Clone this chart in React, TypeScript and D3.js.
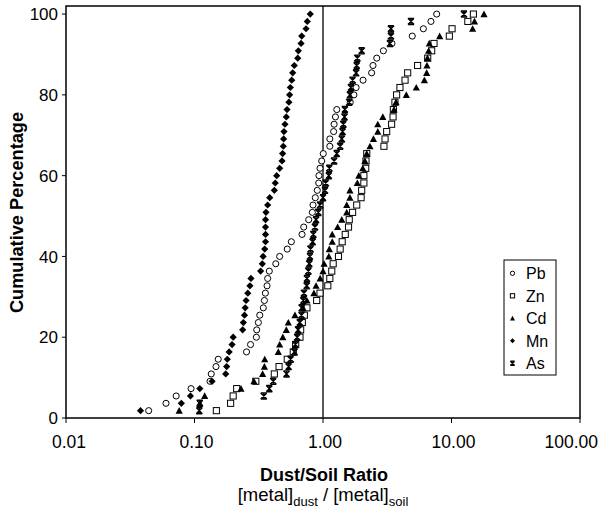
import React from "react";
import * as d3 from "d3";

// dust/soil ratios, sorted ascending (one value per sample)
const pb = [
  0.044, 0.06, 0.072, 0.094, 0.132, 0.135, 0.147, 0.153, 0.254, 0.273, 0.303, 0.305, 0.314, 0.322,
  0.343, 0.35, 0.356, 0.367, 0.371, 0.382, 0.429, 0.46, 0.527, 0.567, 0.687, 0.708, 0.774, 0.826,
  0.836, 0.871, 0.903, 0.926, 0.93, 0.948, 0.977, 1.005, 1.13, 1.13, 1.21, 1.22, 1.25, 1.28, 1.63,
  1.74, 1.81, 2.05, 2.39, 2.45, 2.62, 2.95, 3.44, 4.95, 6.04, 6.92, 7.67,
];
const zn = [
  0.148, 0.191, 0.2, 0.213, 0.3, 0.418, 0.455, 0.527, 0.587, 0.613, 0.662, 0.67, 0.69, 0.716, 0.75,
  0.893, 0.948, 1.09, 1.13, 1.17, 1.2, 1.32, 1.36, 1.41, 1.49, 1.58, 1.6, 1.7, 1.83, 1.98, 2.0, 2.08,
  2.08, 2.15, 2.16, 2.19, 2.98, 3.04, 3.13, 3.42, 3.51, 3.53, 3.63, 3.74, 3.97, 4.35, 4.56, 5.45,
  6.53, 7.01, 7.31, 9.62, 10.1, 13.4, 14.8,
];
const cd = [
  0.076, 0.11, 0.12, 0.23, 0.29, 0.339, 0.35, 0.352, 0.449, 0.46, 0.487, 0.518, 0.537, 0.605, 0.7,
  0.75, 0.85, 0.883, 0.95, 1.0, 1.02, 1.11, 1.12, 1.18, 1.18, 1.3, 1.4, 1.53, 1.53, 1.62, 1.62, 1.85,
  1.9, 2.04, 2.12, 2.19, 2.32, 2.47, 2.67, 2.67, 2.92, 3.57, 3.7, 4.45, 5.32, 6.15, 6.41, 6.44, 6.5,
  6.64, 6.72, 8.09, 14.6, 15.1, 17.9,
];
const mn = [
  0.038, 0.079, 0.093, 0.11, 0.137, 0.175, 0.178, 0.18, 0.186, 0.196, 0.2, 0.237, 0.24, 0.245, 0.248,
  0.252, 0.26, 0.27, 0.275, 0.327, 0.337, 0.342, 0.352, 0.357, 0.357, 0.357, 0.357, 0.36, 0.371,
  0.385, 0.418, 0.425, 0.436, 0.46, 0.48, 0.485, 0.491, 0.494, 0.497, 0.506, 0.518, 0.525, 0.543,
  0.55, 0.557, 0.571, 0.581, 0.598, 0.636, 0.643, 0.675, 0.683, 0.738, 0.755, 0.796,
];
const asr = [
  0.109, 0.11, 0.346, 0.382, 0.41, 0.52, 0.54, 0.56, 0.6, 0.61, 0.63, 0.64, 0.66, 0.68, 0.683, 0.703,
  0.711, 0.747, 0.75, 0.769, 0.782, 0.791, 0.8, 0.831, 0.841, 0.866, 0.883, 0.919, 0.95, 1.0, 1.037,
  1.05, 1.11, 1.12, 1.22, 1.28, 1.36, 1.4, 1.42, 1.44, 1.47, 1.48, 1.6, 1.62, 1.65, 1.7, 1.81, 1.83,
  1.85, 2.0, 3.32, 3.38, 3.38, 4.84, 12.5,
];

const seriesNames = ["Pb", "Zn", "Cd", "Mn", "As"];
const seriesValues = [pb, zn, cd, mn, asr];
const seriesMarkers = ["circle", "square", "triangle", "diamond", "star"];

const xTicks = [0.01, 0.1, 1, 10, 100];
const yTicks = [0, 20, 40, 60, 80, 100];

const FONT = "'Liberation Sans', Arial, sans-serif";

const Marker = ({ type, x, y, s }) => {
  if (type === "circle")
    return <circle cx={x} cy={y} r={s * 0.85} fill="white" stroke="black" strokeWidth={1} />;
  if (type === "square")
    return (
      <rect x={x - s * 0.85} y={y - s * 0.85} width={s * 1.7} height={s * 1.7} fill="white" stroke="black" strokeWidth={1} />
    );
  if (type === "triangle")
    return <path d={`M${x},${y - s}L${x + s},${y + s * 0.85}L${x - s},${y + s * 0.85}Z`} fill="black" />;
  if (type === "diamond")
    return <path d={`M${x},${y - s}L${x + s},${y}L${x},${y + s}L${x - s},${y}Z`} fill="black" />;
  const k = s * 0.85;
  return (
    <path
      d={`M${x - k},${y - k}L${x + k},${y + k}M${x + k},${y - k}L${x - k},${y + k}M${x},${y - s}L${x},${y + s}M${x - k},${y - k}L${x + k},${y - k}M${x - k},${y + k}L${x + k},${y + k}`}
      stroke="black"
      strokeWidth={1.4}
      fill="none"
    />
  );
};

const App = () => {
  const width = 600;
  const height = 513;
  const left = 66,
    right = 580,
    top = 6,
    bottom = 418;

  const x = d3.scaleLog().domain([0.01, 100]).range([left, right]);
  const y = d3.scaleLinear().domain([0, 102]).range([bottom, top]);
  const fmt = (v) => (v < 0.05 ? "0.01" : d3.format(".2f")(v));

  return (
    <svg
      width={width}
      height={height}
      style={{ position: "absolute", left: 0, top: 0, background: "white" }}
      fontFamily={FONT}
    >
      <rect x={0} y={0} width={width} height={height} fill="white" />
      {/* frame */}
      <rect x={left} y={top} width={right - left} height={bottom - top} fill="none" stroke="black" strokeWidth={1.5} />
      {/* ratio = 1 reference line */}
      <line x1={x(1)} x2={x(1)} y1={top} y2={bottom} stroke="black" strokeWidth={1.3} />

      {yTicks.map((t) => (
        <g key={t}>
          <line x1={left - 4} x2={left} y1={y(t)} y2={y(t)} stroke="black" />
          <text x={left - 8} y={y(t)} dy="0.36em" textAnchor="end" fontSize={17}>
            {t}
          </text>
        </g>
      ))}
      {xTicks.map((t, i) => {
        const last = i === xTicks.length - 1;
        return (
          <g key={t}>
            <line x1={x(t)} x2={x(t)} y1={bottom} y2={bottom + 5} stroke="black" />
            <text
              x={last ? 598 : x(t) + (i === 0 ? 3 : 2)}
              y={bottom + 30}
              textAnchor={last ? "end" : "middle"}
              fontSize={17.5}
            >
              {fmt(t)}
            </text>
          </g>
        );
      })}

      {seriesValues.map((vals, si) => (
        <g key={seriesNames[si]}>
          {vals.map((v, i) => (
            <Marker key={i} type={seriesMarkers[si]} x={x(v)} y={y(((i + 1) / vals.length) * 100)} s={3.6} />
          ))}
        </g>
      ))}

      <text
        transform={`translate(${23},${212.5}) rotate(-90)`}
        textAnchor="middle"
        fontSize={18.2}
        fontWeight="bold"
      >
        Cumulative Percentage
      </text>
      <text x={324} y={481} textAnchor="middle" fontSize={18} fontWeight="bold">
        Dust/Soil Ratio
      </text>
      <text x={323} y={501} textAnchor="middle" fontSize={18.5}>
        [metal]
        <tspan fontSize={13} dy={5}>
          dust
        </tspan>
        <tspan dy={-5}> / [metal]</tspan>
        <tspan fontSize={13} dy={5}>
          soil
        </tspan>
      </text>

      {/* legend */}
      <g transform="translate(504,260)">
        <rect x={0} y={0} width={52} height={115} fill="white" stroke="black" strokeWidth={1} />
        {seriesNames.map((n, i) => (
          <g key={n} transform={`translate(0,${13.3 + i * 22.5})`}>
            <Marker type={seriesMarkers[i]} x={8.5} y={0} s={2.5} />
            <text x={22} y={0} dy="0.36em" fontSize={16}>
              {n}
            </text>
          </g>
        ))}
      </g>
    </svg>
  );
};

export default App;
